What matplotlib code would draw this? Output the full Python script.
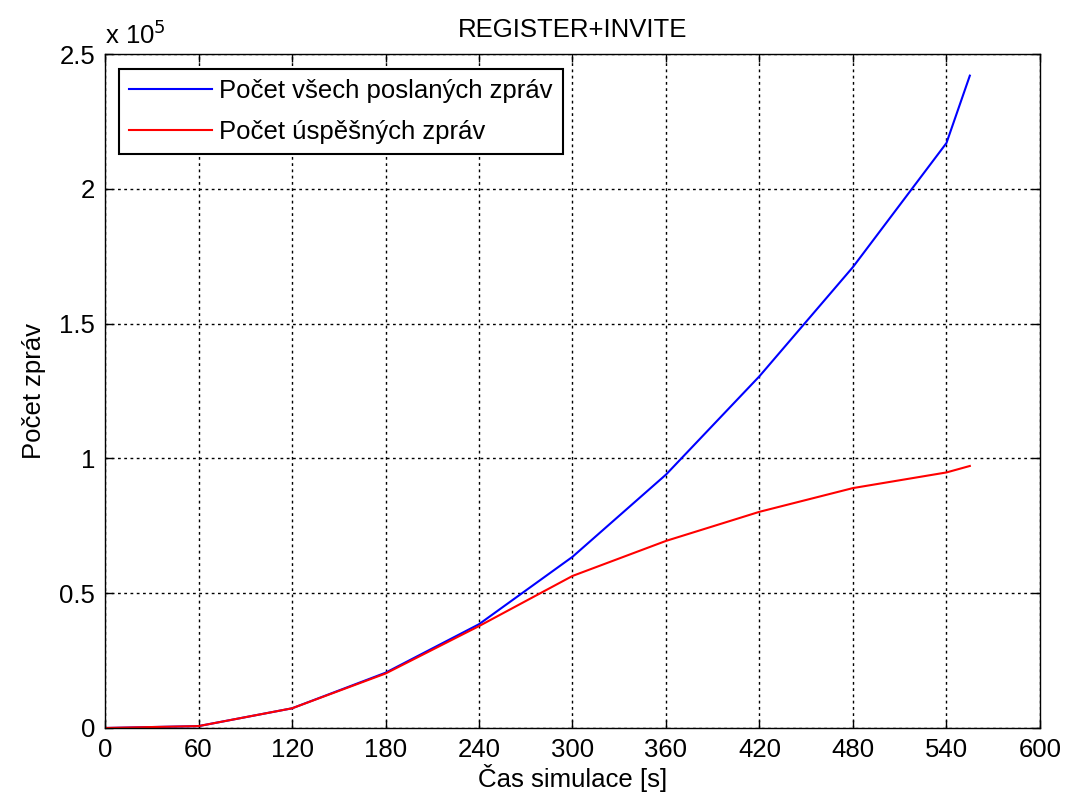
import matplotlib
matplotlib.use("Agg")
import matplotlib.pyplot as plt

plt.rcParams['font.family'] = ['Liberation Sans', 'DejaVu Sans']

time_s = [0, 60, 120, 180, 240, 300, 360, 420, 480, 540, 555]
sent_all = [0, 700, 7300, 20500, 38500, 63500, 94000, 130500, 171000, 217000, 242000]
successful = [0, 700, 7300, 20200, 37800, 56400, 69400, 80200, 89000, 94800, 97200]

xticks = [0, 60, 120, 180, 240, 300, 360, 420, 480, 540, 600]
yticks = [0, 0.5, 1, 1.5, 2, 2.5]
ytick_labels = ['0', '0.5', '1', '1.5', '2', '2.5']

FS = 18.5

fig = plt.figure(figsize=(10.73, 8.07), dpi=100)
ax = fig.add_axes([0.0979, 0.0979, 0.9692 - 0.0979, 0.933 - 0.0979])

scale = 1e5
ax.plot(time_s, [v / scale for v in sent_all], color='#0000ff', lw=1.5,
        label='Počet všech poslaných zpráv')
ax.plot(time_s, [v / scale for v in successful], color='#ff0000', lw=1.5,
        label='Počet úspěšných zpráv')

ax.set_xlim(0, 600)
ax.set_ylim(0, 2.5)
ax.set_xticks(xticks)
ax.set_yticks(yticks)
ax.set_yticklabels(ytick_labels)
ax.tick_params(direction='in', top=True, right=True, labelsize=FS, length=6, width=1, pad=7)
ax.grid(True, color='black', linestyle=(0, (2, 2.5)), linewidth=1.0)
for s in ax.spines.values():
    s.set_linewidth(1.0)

ax.set_xlabel('Čas simulace [s]', fontsize=FS, labelpad=2)
ax.set_ylabel('Počet zpráv', fontsize=FS, labelpad=10)
ax.set_title('REGISTER+INVITE', fontsize=FS, pad=12)
ax.text(0.0, 1.008, r'x 10$^5$', transform=ax.transAxes, fontsize=FS, ha='left', va='bottom')

leg = ax.legend(loc='upper left', fontsize=FS, frameon=True, fancybox=False,
                edgecolor='black', framealpha=1, borderpad=0.4, handlelength=3.2,
                handletextpad=0.3, labelspacing=0.65, borderaxespad=0,
                bbox_to_anchor=(0.015, 0.978))
leg.get_frame().set_linewidth(1.5)

fig.savefig('out.png', dpi=100)
